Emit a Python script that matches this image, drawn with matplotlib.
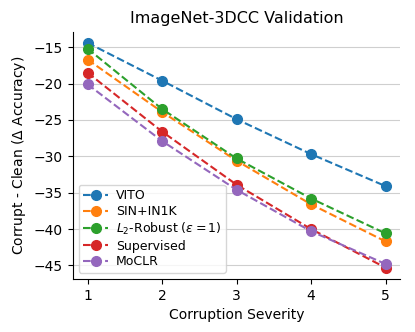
import matplotlib
matplotlib.use("Agg")
import matplotlib.pyplot as plt

severity = [1, 2, 3, 4, 5]
vito = [-14.4, -19.6, -24.9, -29.7, -34.1]
sin_in1k = [-16.7, -23.9, -30.6, -36.6, -41.7]
l2_robust = [-15.2, -23.5, -30.3, -35.8, -40.6]
supervised = [-18.5, -26.6, -33.9, -40.0, -45.3]
moclr = [-20.1, -27.9, -34.6, -40.3, -44.8]

series = [
    ("VITO", vito),
    ("SIN+IN1K", sin_in1k),
    (r"$L_2$-Robust ($\epsilon = 1$)", l2_robust),
    ("Supervised", supervised),
    ("MoCLR", moclr),
]

fig, ax = plt.subplots(figsize=(4.15, 3.32), dpi=100)
for name, vals in series:
    ax.plot(severity, vals, "o--", label=name, markersize=7)

ax.set_title("ImageNet-3DCC Validation", fontsize=11.5)
ax.set_xlabel("Corruption Severity", fontsize=10)
ax.set_ylabel(r"Corrupt - Clean ($\Delta$ Accuracy)", fontsize=10)
ax.set_xticks(severity)
ax.set_yticks([-45, -40, -35, -30, -25, -20, -15])
ax.tick_params(labelsize=10)
ax.grid(axis="y", alpha=0.6)
ax.spines["top"].set_visible(False)
ax.spines["right"].set_visible(False)
ax.legend(loc="lower left", fontsize=9, labelspacing=0.22,
          borderpad=0.35, handletextpad=0.6)

fig.subplots_adjust(left=0.175, right=0.965, top=0.905, bottom=0.16)
fig.savefig("out.png", dpi=100)
